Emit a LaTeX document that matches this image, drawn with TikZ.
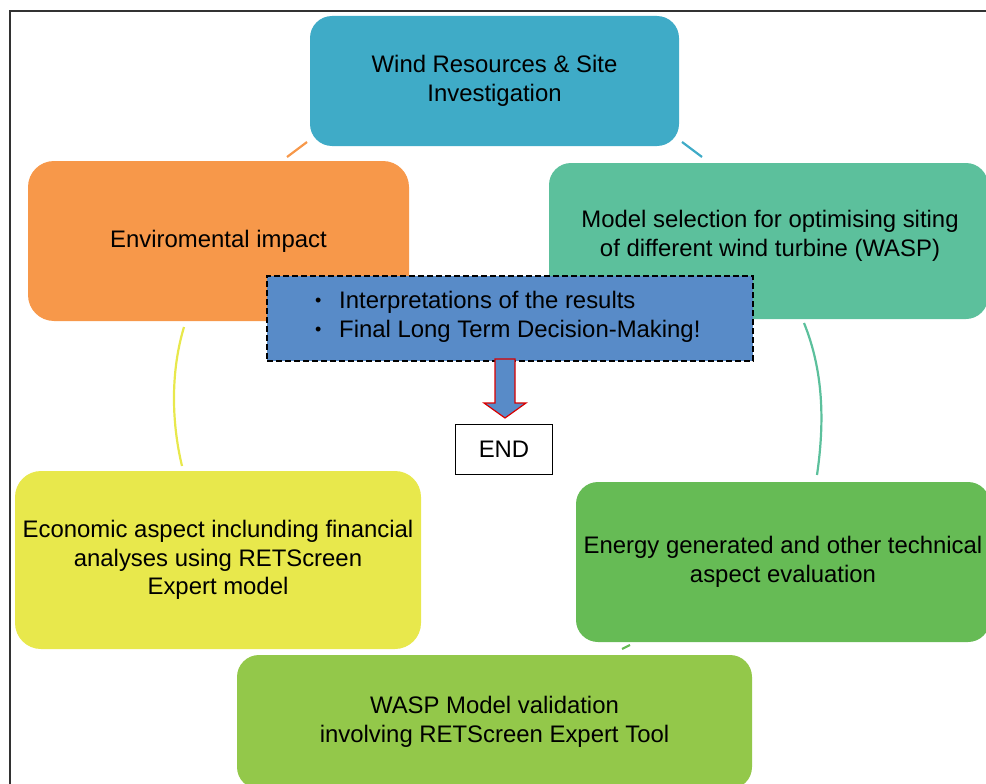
\documentclass[tikz,border=0pt]{standalone}
\usepackage{fontspec}
\setmainfont{Liberation Sans}
\definecolor{cTop}{RGB}{63,171,199}
\definecolor{cOrange}{RGB}{247,152,74}
\definecolor{cTeal}{RGB}{92,192,156}
\definecolor{cYellow}{RGB}{232,232,76}
\definecolor{cGreen}{RGB}{102,187,85}
\definecolor{cLight}{RGB}{147,200,74}
\definecolor{cBlue}{RGB}{88,139,200}
\definecolor{cFrame}{RGB}{50,50,50}
\begin{document}
\begin{tikzpicture}[x=1pt,y=-1pt,
  txt/.style={font=\fontsize{23.9}{28.5}\selectfont},
  box/.style={rounded corners=22pt, align=center, inner sep=0pt, txt},
  conn/.style={line width=2.2pt},
  frameline/.style={draw=cFrame, line width=1.5pt}]
\useasboundingbox (0,0) rectangle (986,784);
\draw[frameline] (10,800) -- (10,11) -- (1000,11);

% connectors
\coordinate (oA) at (287,157); \coordinate (oB) at (307,142);
\coordinate (tA) at (682,142); \coordinate (tB) at (702,157);
\coordinate (yA) at (184,327); \coordinate (yB) at (182,466);
\coordinate (gA) at (804,323); \coordinate (gB) at (817,475);
\coordinate (lA) at (622,649); \coordinate (lB) at (630,645);
\draw[conn, cOrange] (oA) -- (oB);
\draw[conn, cTop] (tA) -- (tB);
\draw[conn, cYellow] (yA) .. controls (171,370) and (171,420) .. (yB);
\draw[conn, cTeal] (gA) .. controls (823,370) and (825,420) .. (gB);
\draw[conn, cGreen] (lA) -- (lB);

% boxes
\node[box, fill=cTop, minimum width=369pt, minimum height=130pt] (top) at (494.5,81)
  {Wind Resources \& Site\\Investigation};
\node[box, rounded corners=26pt, fill=cOrange, minimum width=381pt, minimum height=160pt] (env) at (218.5,241)
  {Enviromental impact};
\node[box, fill=cTeal, minimum width=439pt, minimum height=156pt] (model) at (768.5,241) {};
\node[align=center, inner sep=0pt, txt] (modeltxt) at (770,236)
  {Model selection for optimising siting\\of different wind turbine (WASP)};
\node[box, rounded corners=26pt, fill=cYellow, minimum width=406pt, minimum height=178pt] (eco) at (218,560)
  {Economic aspect inclunding financial\\analyses using RETScreen\\Expert model};
\node[box, fill=cGreen, minimum width=414pt, minimum height=160pt] (energy) at (783,562)
  {Energy generated and other technical\\aspect evaluation};
\node[box, fill=cLight, minimum width=515pt, minimum height=134pt] (wasp) at (494.5,722)
  {WASP Model validation\\involving RETScreen Expert Tool};

% central box
\node[draw=black, dashed, dash pattern=on 6pt off 3pt, line width=1.2pt, fill=cBlue,
  minimum width=486pt, minimum height=85pt, inner sep=0pt] (interp) at (510,318.5) {};
\node[anchor=west, align=left, inner sep=0pt, txt] (interptxt) at (315,317)
  {\makebox[24pt][l]{\fontsize{18}{18}\selectfont\raisebox{2pt}{•}}Interpretations of the results\\
   \makebox[24pt][l]{\fontsize{18}{18}\selectfont\raisebox{2pt}{•}}Final Long Term Decision-Making!};

% arrow
\filldraw[fill=cBlue, draw=red!85!black, line width=1.2pt]
  (495,359) -- (515,359) -- (515,403) -- (526,403) -- (505,418) -- (484,403) -- (495,403) -- cycle;

% END
\node[draw=black, line width=1.3pt, minimum width=97pt, minimum height=50pt, inner sep=0pt,
  txt] (end) at (504,449.5) {END};
\end{tikzpicture}
\end{document}
